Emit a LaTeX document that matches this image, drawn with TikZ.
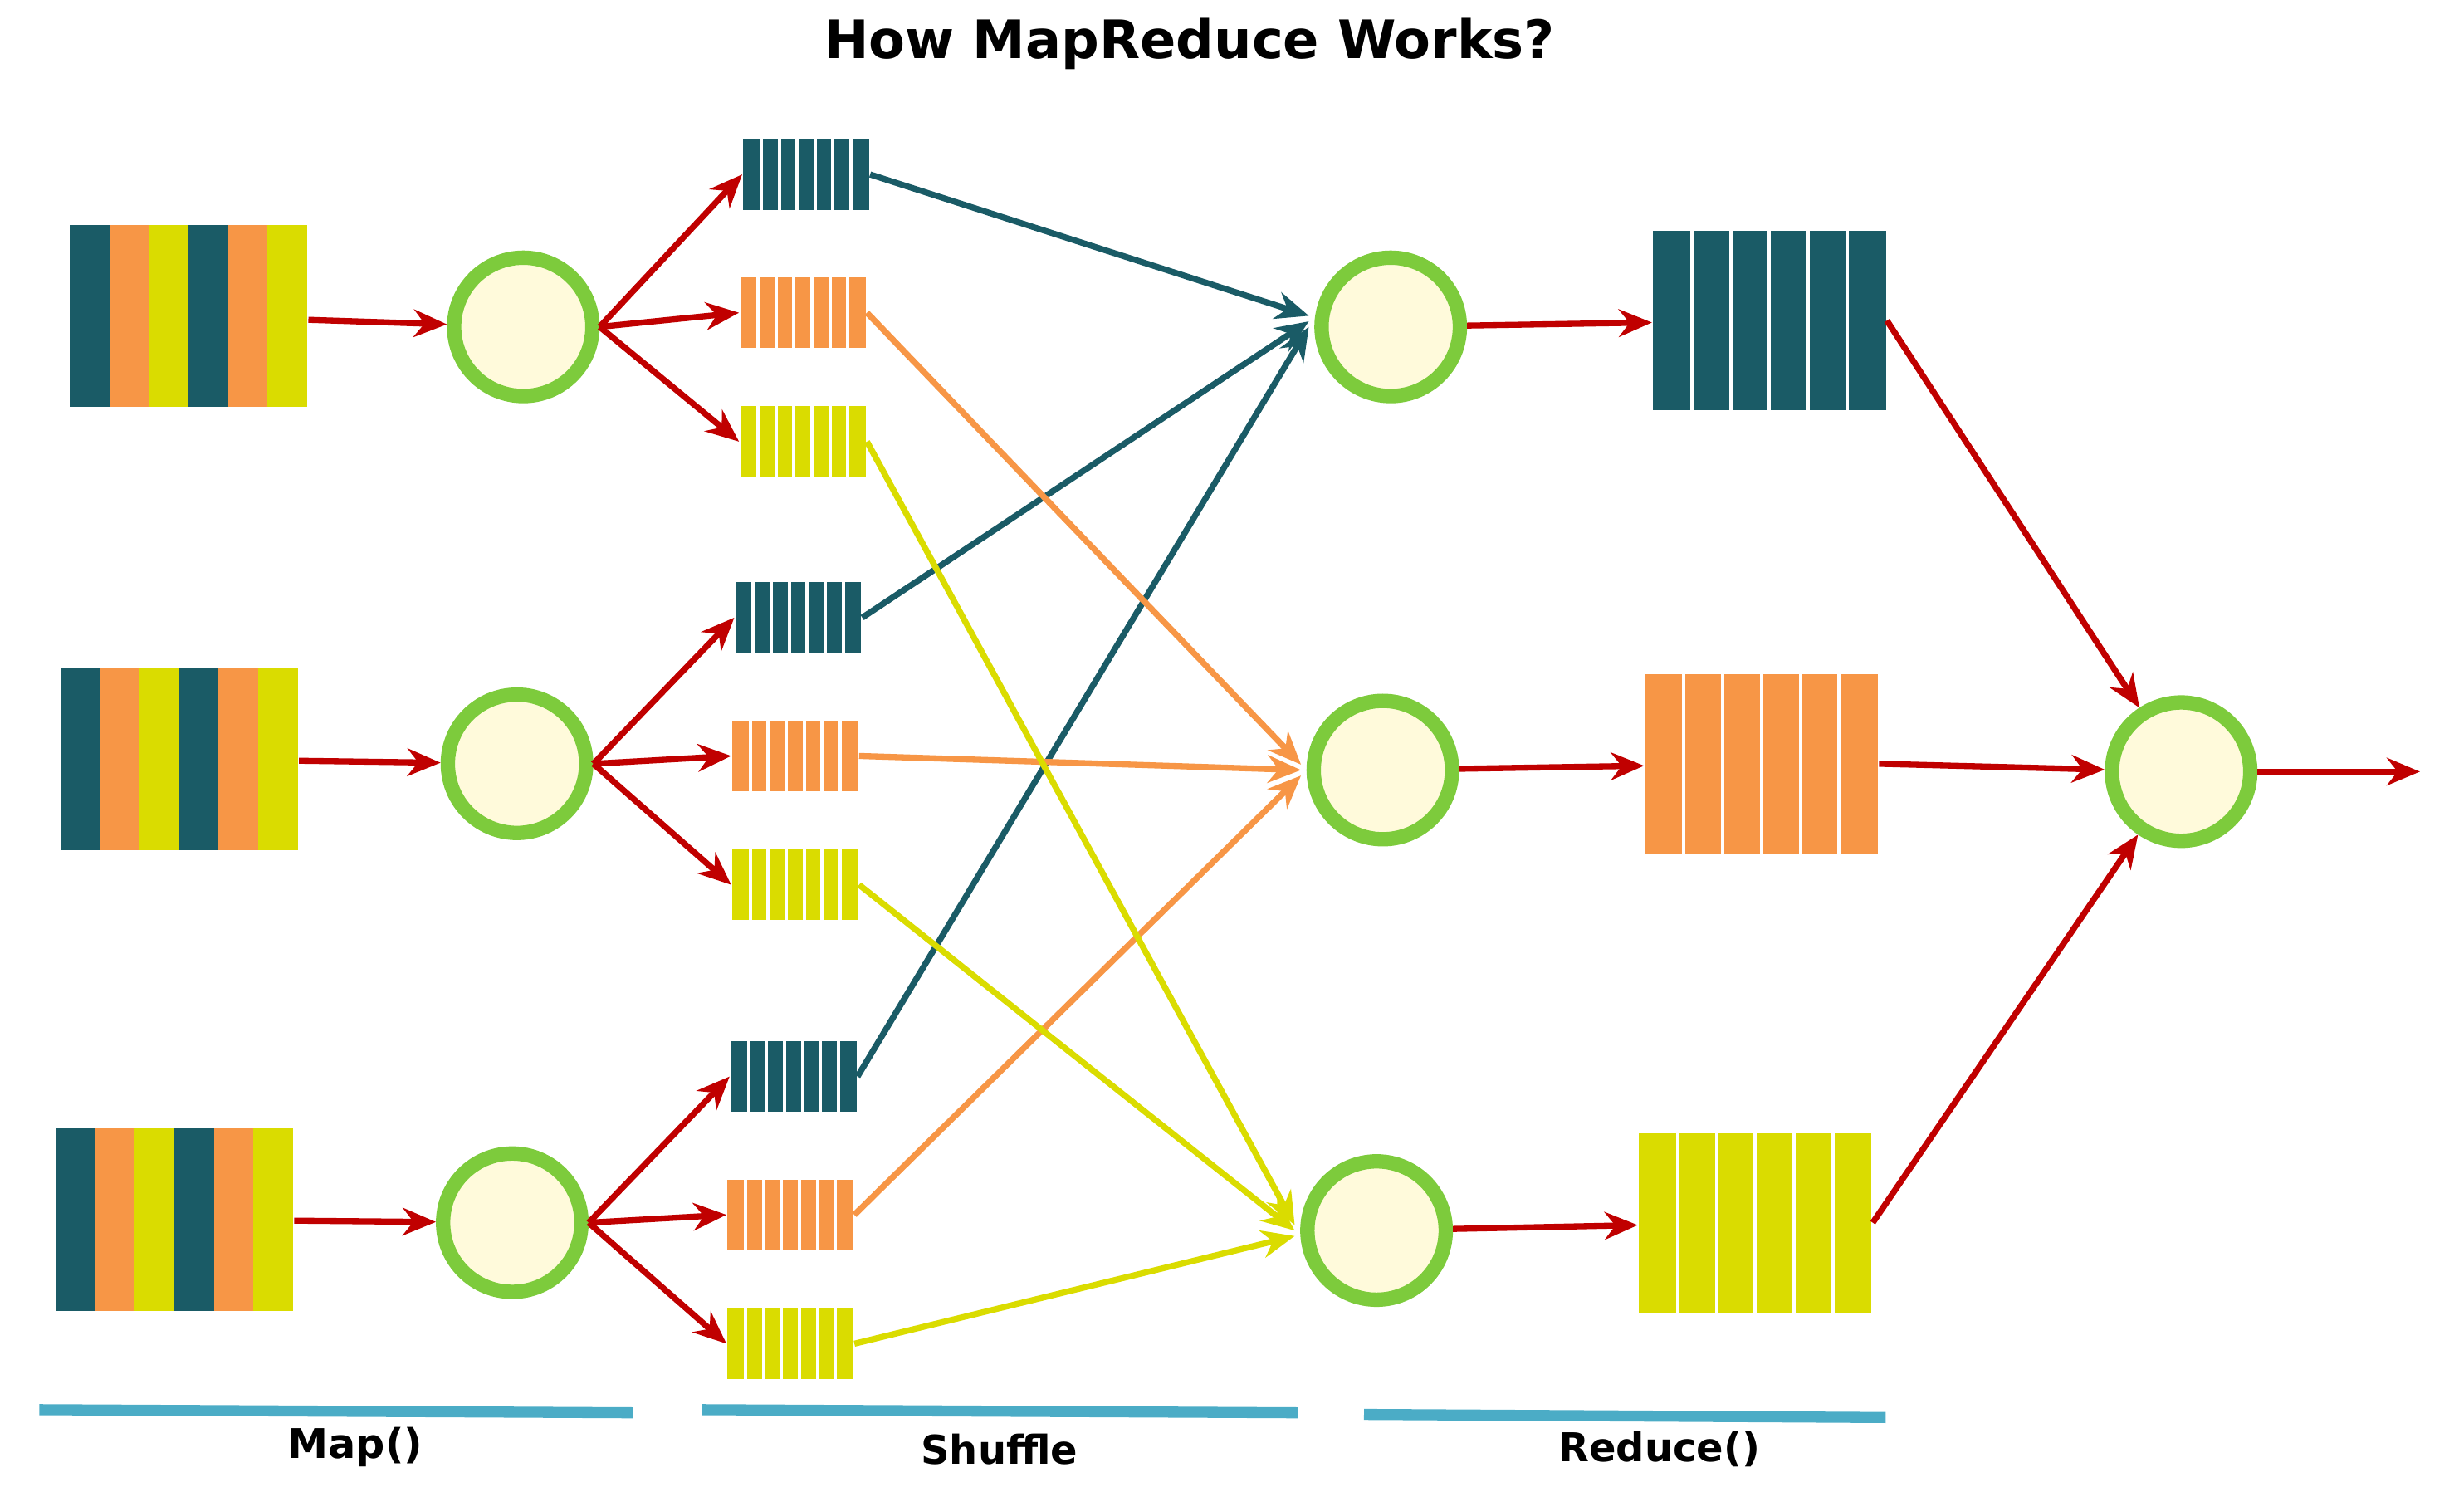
\documentclass[tikz,border=0pt]{standalone}
\usepackage{fontspec}
\setmainfont{DejaVu Sans}
\usetikzlibrary{arrows.meta,calc}
\definecolor{teal}{HTML}{1A5B66}
\definecolor{org}{HTML}{F79646}
\definecolor{yel}{HTML}{DADC00}
\definecolor{ring}{HTML}{7DCB3C}
\definecolor{cfill}{HTML}{FFFADB}
\definecolor{rd}{HTML}{C00000}
\definecolor{bl}{HTML}{4BACC6}
\begin{document}
\begin{tikzpicture}[x=0.01cm,y=-0.01cm,
 circ/.style={circle,draw=ring,line width=2.6pt,fill=cfill,minimum size=0.88cm,inner sep=0},
 blk/.style n args={3}{rectangle,inner sep=0,fill=#1,minimum width=#2*0.01cm,minimum height=#3*0.01cm,
   path picture={\foreach \i in {1,...,6}{\draw[white,line width=0.6pt]
     ($(path picture bounding box.south west)!\i/7!(path picture bounding box.south east)$) --
     ($(path picture bounding box.north west)!\i/7!(path picture bounding box.north east)$);}}},
 big/.style n args={1}{rectangle,inner sep=0,fill=#1,minimum width=1.48cm,minimum height=1.14cm,
   path picture={\foreach \i in {1,...,5}{\draw[white,line width=0.6pt]
     ($(path picture bounding box.south west)!\i/6!(path picture bounding box.south east)$) --
     ($(path picture bounding box.north west)!\i/6!(path picture bounding box.north east)$);}}},
 inb/.style={rectangle,inner sep=0,minimum width=1.51cm,minimum height=1.16cm,
   path picture={\foreach \c [count=\i from 0] in {teal,org,yel,teal,org,yel}{
     \fill[\c] ($(path picture bounding box.south west)!\i/6!(path picture bounding box.south east)$) rectangle
     ($(path picture bounding box.north west)!\i/6+1/6!(path picture bounding box.north east)$);}}},
 ar/.style={-{Stealth[length=6pt,width=5pt]},line width=1.1pt},
 rar/.style={ar,draw=rd},
 bar/.style={draw=bl,line width=2pt},
 lab/.style={font=\bfseries\fontsize{7.2}{8}\selectfont}]
\useasboundingbox (0,0) rectangle (1568,946);
\node[font=\bfseries\fontsize{9.6}{11}\selectfont] (title) at (757,28) {How MapReduce Works?};
% inputs
\node[inb] (i1) at (120,201) {};
\node[inb] (i2) at (114,483) {};
\node[inb] (i3) at (111,776) {};
% map circles
\node[circ] (m1) at (333,208) {};
\node[circ] (m2) at (329,486) {};
\node[circ] (m3) at (326,778) {};
% small blocks
\node[blk={teal}{80}{45}] (t1) at (513,111) {};
\node[blk={org}{80}{45}] (o1) at (511,199) {};
\node[blk={yel}{80}{45}] (y1) at (511,281) {};
\node[blk={teal}{80}{45}] (t2) at (508,393) {};
\node[blk={org}{80}{45}] (o2) at (506,481) {};
\node[blk={yel}{80}{45}] (y2) at (506,563) {};
\node[blk={teal}{80}{45}] (t3) at (505,685) {};
\node[blk={org}{80}{45}] (o3) at (503,773) {};
\node[blk={yel}{80}{45}] (y3) at (503,855) {};
% reduce circles
\node[circ] (r1) at (885,208) {};
\node[circ] (r2) at (880,490) {};
\node[circ] (r3) at (876,783) {};
\node[big={teal}] (b1) at (1126,204) {};
\node[big={org}] (b2) at (1121,486) {};
\node[big={yel}] (b3) at (1117,778) {};
\node[circ] (f) at (1388,491) {};
\coordinate (end) at (1540,491);
% red arrows
\foreach \n in {1,2,3}{
  \draw[rar] (i\n) -- (m\n);
  \draw[rar] (m\n.east) -- (t\n.west);
  \draw[rar] (m\n.east) -- (o\n.west);
  \draw[rar] (m\n.east) -- (y\n.west);
  \draw[rar] (r\n) -- (b\n);
}
\draw[rar] (b1.east) -- (f);
\draw[rar] (b2.east) -- (f);
\draw[rar] (b3.east) -- (f);
\draw[rar] (f) -- (end);
% shuffle
\draw[ar,draw=teal] (t1.east) -- ([xshift=-1pt,yshift=2pt]r1.west);
\draw[ar,draw=teal] (t2.east) -- ([xshift=-1pt,yshift=1pt]r1.west);
\draw[ar,draw=teal] (t3.east) -- ([xshift=-1pt]r1.west);
\draw[ar,draw=org] (o1.east) -- ([xshift=-1pt,yshift=1pt]r2.west);
\draw[ar,draw=org] (o2.east) -- ([xshift=-1pt]r2.west);
\draw[ar,draw=org] (o3.east) -- ([xshift=-1pt,yshift=-1pt]r2.west);
\draw[ar,draw=yel] (y1.east) -- ([xshift=-1pt,yshift=1pt]r3.west);
\draw[ar,draw=yel] (y2.east) -- ([xshift=-1pt]r3.west);
\draw[ar,draw=yel] (y3.east) -- ([xshift=-1pt,yshift=-1pt]r3.west);
% bottom
\draw[bar] (25,897) coordinate (a1) -- (403,899) coordinate (a2);
\draw[bar] (447,897) coordinate (a3) -- (826,899) coordinate (a4);
\draw[bar] (868,900) coordinate (a5) -- (1200,902) coordinate (a6);
\node[font=\bfseries\fontsize{7.4}{9}\selectfont] (lm) at (226,921) {Map()};
\node[lab] (ls) at (636,922) {Shuffle};
\node[lab] (lr) at (1056,922) {Reduce()};
\end{tikzpicture}
\end{document}
